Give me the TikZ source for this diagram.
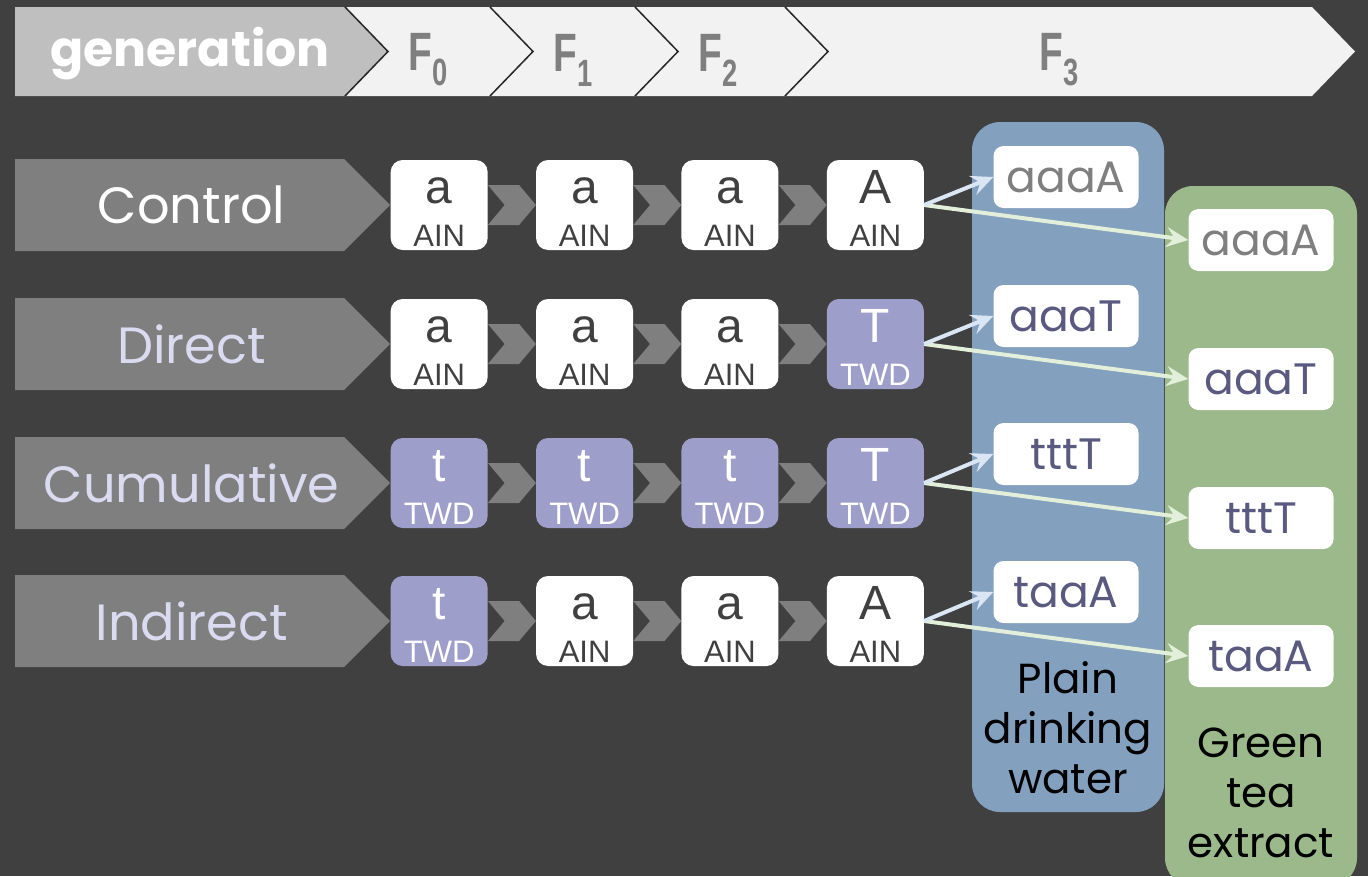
\documentclass[tikz,border=0pt]{standalone}
\usepackage{fontspec}
\setmainfont{Poppins}
\newfontfamily\arialfont{Liberation Sans}
\newfontfamily\narrowfont[FakeStretch=0.72]{Liberation Sans}
\usetikzlibrary{positioning, calc, arrows.meta, shapes.symbols}
\definecolor{bgdark}{HTML}{404040}
\definecolor{genfill}{HTML}{BFBFBF}
\definecolor{headfill}{HTML}{F2F2F2}
\definecolor{sepdark}{HTML}{262626}
\definecolor{midgray}{HTML}{7F7F7F}
\definecolor{lavtext}{HTML}{DADAF0}
\definecolor{twdfill}{HTML}{9E9ECB}
\definecolor{slate}{HTML}{5A5A80}
\definecolor{watercol}{HTML}{84A0BF}
\definecolor{teacol}{HTML}{9CB98B}
\definecolor{waterarrow}{HTML}{DAE6F4}
\definecolor{teaarrow}{HTML}{E2EFDA}
\newcommand{\allele}[2]{\rule{0pt}{39pt}{\fontsize{48}{48}\selectfont #1}\\#2}
\newcommand{\gen}[1]{F\raisebox{-0.28em}{\fontsize{38}{38}\selectfont #1}}
\tikzset{
  headtext/.style={text=midgray, font=\narrowfont\bfseries\fontsize{54}{54}\selectfont},
  stage/.style={shape=signal, signal to=east, signal pointer angle=90, fill=midgray,
    minimum width=375pt, minimum height=92pt, inner sep=0pt, text=lavtext,
    font=\fontsize{51}{60}\selectfont},
  gene/.style={rectangle, rounded corners=12pt, fill=white, text=bgdark, align=center,
    minimum width=97pt, minimum height=90pt, inner sep=0pt,
    font=\arialfont\fontsize{31}{43}\selectfont},
  treated/.style={gene, fill=twdfill, text=white},
  link/.style={shape=signal, signal from=west, signal to=east, signal pointer angle=100,
    fill=midgray, minimum width=48pt, minimum height=40pt, inner sep=0pt},
  column/.style={rectangle, rounded corners=28pt, minimum width=192pt, inner sep=0pt},
  result/.style={rectangle, rounded corners=10pt, fill=white, text=slate,
    minimum width=145pt, minimum height=62pt, inner sep=0pt,
    font=\fontsize{44}{44}\selectfont},
  coltext/.style={text=black, align=center, font=\fontsize{42}{50}\selectfont},
  towater/.style={draw=waterarrow, line width=4pt, -{Stealth[length=22pt, width=20pt, inset=8pt]}},
  totea/.style={draw=teaarrow, line width=4pt, -{Stealth[length=22pt, width=20pt, inset=8pt]}}
}

\begin{document}
\begin{tikzpicture}[x=1pt, y=-1pt]

  \fill[bgdark] (0,0) rectangle (1368,876);
  \useasboundingbox (0,0) rectangle (1368,876);

  % generation banner
  \fill[headfill] (345,7) -- (1312,7) -- (1355,51.5) -- (1312,96) -- (345,96) -- (388,51.5) -- cycle;
  \fill[genfill] (15,7) -- (345,7) -- (388,51.5) -- (345,96) -- (15,96) -- cycle;
  \draw[sepdark, line width=1.5pt] (345,7) -- (388,51.5) -- (345,96)
    (490,7) -- (533,51.5) -- (490,96)
    (635,7) -- (678,51.5) -- (635,96)
    (785,7) -- (828,51.5) -- (785,96);
  \node[text=white, font=\bfseries\fontsize{49}{49}\selectfont] (generation) at (190,54) {generation};
  \node[headtext] (f0) at (428,60) {\gen{0}};
  \node[headtext] (f1) at (573,60) {\gen{1}};
  \node[headtext] (f2) at (718,60) {\gen{2}};
  \node[headtext] (f3) at (1059,60) {\gen{3}};

  % drinking columns
  \node[column, fill=watercol, minimum height=690pt] (water) at (1068,467) {};
  \node[column, fill=teacol, minimum height=700pt] (tea) at (1261,536) {};
  \node[coltext] (waterlabel) at (1068,728) {Plain\\drinking\\water};
  \node[coltext] (tealabel) at (1261,793) {Green\\tea\\extract};

  \node[result, text=midgray] (w1) at (1066,177) {aaaA};
  \node[result] (w2) at (1066,316) {aaaT};
  \node[result] (w3) at (1066,454) {tttT};
  \node[result] (w4) at (1066,592) {taaA};
  \node[result, text=midgray] (t1) at (1261,240) {aaaA};
  \node[result] (t2) at (1261,379) {aaaT};
  \node[result] (t3) at (1261,518) {tttT};
  \node[result] (t4) at (1261,656) {taaA};

  % Control
  \node[stage, anchor=west, text=white] (control) at (15,205) {\hspace*{24pt}Control};
  \node[gene, right=0pt of control] (c1) {\allele{a}{AIN}};
  \node[gene, right=48pt of c1] (c2) {\allele{a}{AIN}};
  \node[gene, right=48pt of c2] (c3) {\allele{a}{AIN}};
  \node[gene, right=48pt of c3] (c4) {\allele{A}{AIN}};
  \node[link] at ($(c1.east)!0.5!(c2.west)$) {};
  \node[link] at ($(c2.east)!0.5!(c3.west)$) {};
  \node[link] at ($(c3.east)!0.5!(c4.west)$) {};

  % Direct
  \node[stage, anchor=west] (direct) at (15,344) {\hspace*{24pt}Direct};
  \node[gene, right=0pt of direct] (d1) {\allele{a}{AIN}};
  \node[gene, right=48pt of d1] (d2) {\allele{a}{AIN}};
  \node[gene, right=48pt of d2] (d3) {\allele{a}{AIN}};
  \node[treated, right=48pt of d3] (d4) {\allele{T}{TWD}};
  \node[link] at ($(d1.east)!0.5!(d2.west)$) {};
  \node[link] at ($(d2.east)!0.5!(d3.west)$) {};
  \node[link] at ($(d3.east)!0.5!(d4.west)$) {};

  % Cumulative
  \node[stage, anchor=west] (cumulative) at (15,483) {\hspace*{24pt}Cumulative};
  \node[treated, right=0pt of cumulative] (u1) {\allele{t}{TWD}};
  \node[treated, right=48pt of u1] (u2) {\allele{t}{TWD}};
  \node[treated, right=48pt of u2] (u3) {\allele{t}{TWD}};
  \node[treated, right=48pt of u3] (u4) {\allele{T}{TWD}};
  \node[link] at ($(u1.east)!0.5!(u2.west)$) {};
  \node[link] at ($(u2.east)!0.5!(u3.west)$) {};
  \node[link] at ($(u3.east)!0.5!(u4.west)$) {};

  % Indirect
  \node[stage, anchor=west] (indirect) at (15,621) {\hspace*{24pt}Indirect};
  \node[treated, right=0pt of indirect] (i1) {\allele{t}{TWD}};
  \node[gene, right=48pt of i1] (i2) {\allele{a}{AIN}};
  \node[gene, right=48pt of i2] (i3) {\allele{a}{AIN}};
  \node[gene, right=48pt of i3] (i4) {\allele{A}{AIN}};
  \node[link] at ($(i1.east)!0.5!(i2.west)$) {};
  \node[link] at ($(i2.east)!0.5!(i3.west)$) {};
  \node[link] at ($(i3.east)!0.5!(i4.west)$) {};

  \draw[totea] (c4.east) -- (t1.west);
  \draw[towater] (c4.east) -- (w1.west);
  \draw[totea] (d4.east) -- (t2.west);
  \draw[towater] (d4.east) -- (w2.west);
  \draw[totea] (u4.east) -- (t3.west);
  \draw[towater] (u4.east) -- (w3.west);
  \draw[totea] (i4.east) -- (t4.west);
  \draw[towater] (i4.east) -- (w4.west);

\end{tikzpicture}
\end{document}
